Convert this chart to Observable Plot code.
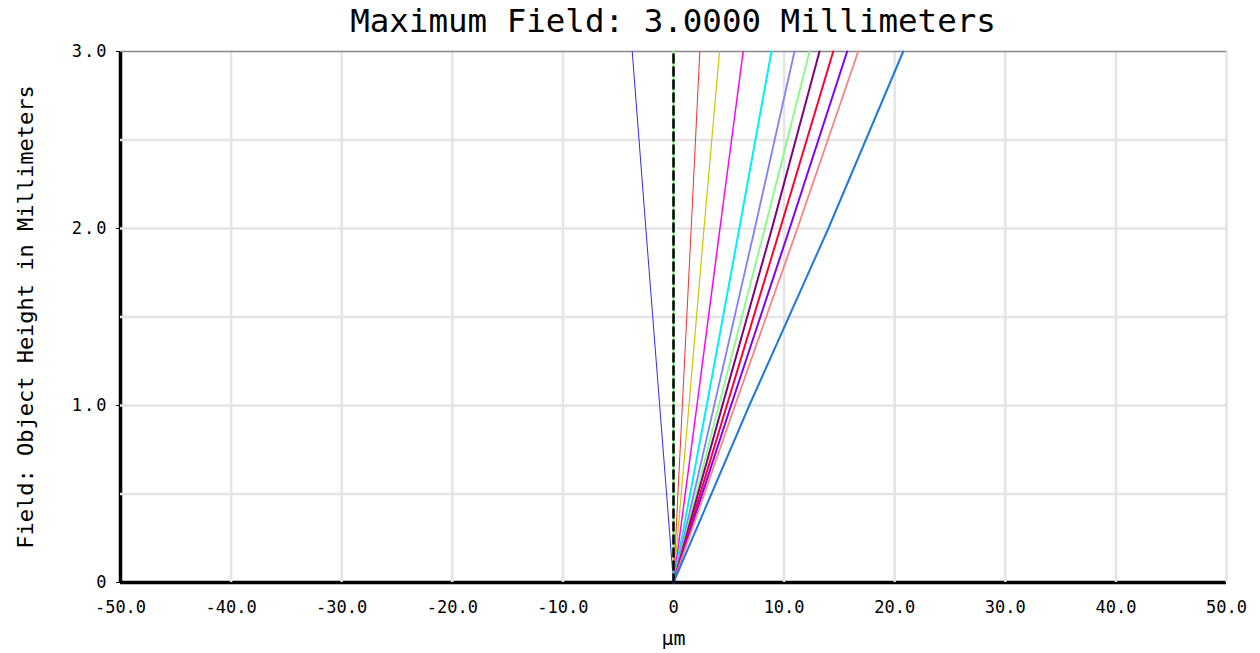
<!DOCTYPE html>
<html>
<head>
<meta charset="utf-8">
<script src="https://cdn.jsdelivr.net/npm/d3@7"></script>
<script src="https://cdn.jsdelivr.net/npm/@observablehq/plot@0.6"></script>
<style>
  html, body { margin: 0; padding: 0; background: #fff; }
  #title { height: 40px; line-height: 42px; width: 1260px; text-align: left;
           font-family: "DejaVu Sans Mono", monospace; font-size: 32.5px; color: #000; }
  #title span { display: inline-block; width: 1346px; text-align: center; }
  [aria-label="y-axis tick label"] text { letter-spacing: 2px; }
</style>
</head>
<body>
<div id="title"><span>Maximum Field: 3.0000 Millimeters</span></div>
<div id="chart"></div>
<script>
// Field heights (mm) at which each curve was read
const field = [0, 1.0, 2.0, 3.0];

// Lateral color curves (µm) per wavelength series
const seriesNames = ["s1","s2","s3","s4","s5","s6","s7","s8","s9","s10","s11","s12","s13"];
const seriesColors = ["#2a2aff","#80ff80","#ff2a2a","#c8c800","#ff00ff","#00f0ff","#8080ff","#80ff80","#800080","#ff0033","#8000ff","#ff8080","#1f78e0"];
const s1  = [0, -1.25, -2.50, -3.73];
const s2  = [0, 0, 0, 0];
const s3  = [0, 0.80, 1.60, 2.38];
const s4  = [0, 1.40, 2.76, 4.16];
const s5  = [0, 2.12, 4.20, 6.30];
const s6  = [0, 3.00, 5.95, 8.86];
const s7  = [0, 3.68, 7.35, 10.94];
const s8  = [0, 4.10, 8.25, 12.30];
const s9  = [0, 4.42, 8.90, 13.20];
const s10 = [0, 4.82, 9.65, 14.44];
const s11 = [0, 5.20, 10.50, 15.70];
const s12 = [0, 5.56, 11.20, 16.70];
const s13 = [0, 6.85, 14.00, 20.77];
const seriesValues = [s1,s2,s3,s4,s5,s6,s7,s8,s9,s10,s11,s12,s13];
const seriesWidths = [1, 2, 1, 1.2, 1.5, 2, 1.8, 1.8, 2, 2, 2, 1.8, 2];

// Reference dashed line (on-axis)
const refLine = [0, 0, 0, 0];

const xTicks = [-50,-40,-30,-20,-10,0,10,20,30,40,50];
const yTicks = [0, 1, 2, 3];
const yGrid = [0, 0.5, 1, 1.5, 2, 2.5];
const xDomain = [-50, 50];
const yDomain = [0, 3];

const rows = [];
seriesNames.forEach((n, i) => {
  field.forEach((f, j) => rows.push({series: n, field: f, x: seriesValues[i][j]}));
});
const refRows = field.map((f, j) => ({field: f, x: refLine[j]}));

const fmt = d => d === 0 ? "0" : d.toFixed(1);

const marks = [
  Plot.ruleX([xDomain[0]], {stroke: "#000", strokeWidth: 3.5}),
  Plot.ruleY([yDomain[0]], {stroke: "#000", strokeWidth: 3.5}),
  Plot.ruleX(xTicks.slice(1), {stroke: "#e4e4e4", strokeWidth: 2.5}),
  Plot.ruleY(yGrid.slice(1), {stroke: "#e4e4e4", strokeWidth: 2.5}),
  Plot.ruleY([yDomain[1]], {stroke: "#888", strokeWidth: 1.5}),
];
seriesNames.forEach((n, i) => {
  marks.push(Plot.line(rows.filter(r => r.series === n), {
    x: "x", y: "field", stroke: seriesColors[i], strokeWidth: seriesWidths[i]
  }));
});
marks.push(Plot.line(refRows, {x: "x", y: "field", stroke: "#000", strokeWidth: 2.5, strokeDasharray: "8,5"}));
marks.push(Plot.axisX({ticks: xTicks, tickSize: 0, tickPadding: 18, tickFormat: fmt, label: null}));
marks.push(Plot.axisY({ticks: yTicks, tickSize: 4, tickPadding: 8, tickFormat: fmt, label: null}));
marks.push(Plot.text(["Field: Object Height in Millimeters"], {frameAnchor: "left", textAnchor: "middle", dx: -95, rotate: -90, fontSize: 22, text: d => d}));
marks.push(Plot.text(["µm"], {frameAnchor: "bottom", dy: 62, fontSize: 20, text: d => d}));

const chart = Plot.plot({
  width: 1260,
  height: 613,
  marginLeft: 120,
  marginRight: 34,
  marginTop: 11,
  marginBottom: 71,
  x: {domain: xDomain},
  y: {domain: yDomain},
  style: {fontFamily: "DejaVu Sans Mono, monospace", fontSize: "17px", color: "#000", background: "#fff", overflow: "visible"},
  marks
});
document.getElementById("chart").appendChild(chart);
</script>
</body>
</html>
